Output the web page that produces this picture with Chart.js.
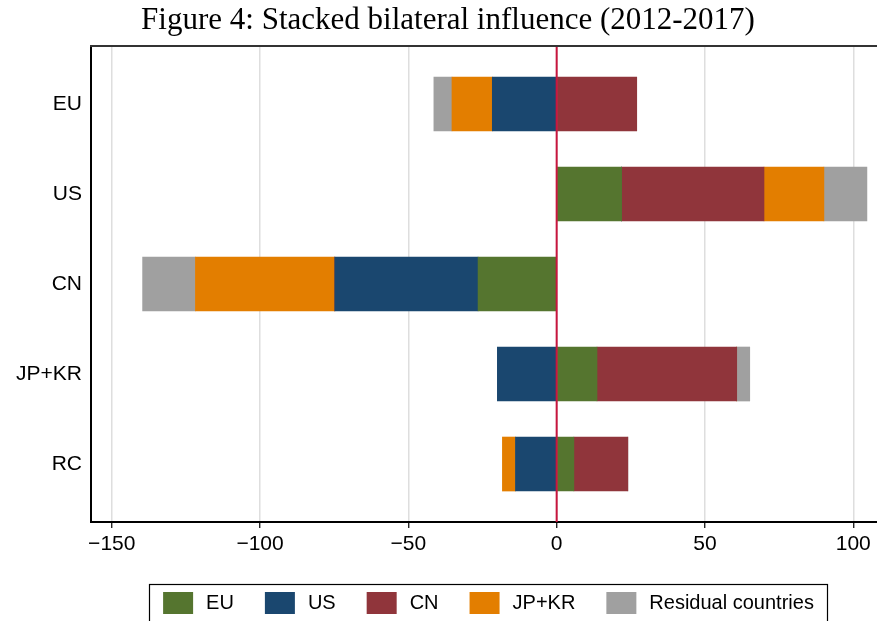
<!DOCTYPE html>
<html>
<head>
<meta charset="utf-8">
<script src="https://cdn.jsdelivr.net/npm/chart.js@4"></script>
<style>
html, body { margin: 0; padding: 0; background: #fff; }
#wrap { width: 877px; height: 621px; }
</style>
</head>
<body>
<div id="wrap"><canvas id="chart"></canvas></div>
<script>
// rows = receiving region, one array per source of influence
const rows = ['EU', 'US', 'CN', 'JP+KR', 'RC'];
const xTicks = [-150, -100, -50, 0, 50, 100];
const seriesNames = ['EU', 'US', 'CN', 'JP+KR', 'Residual countries'];
const fromEU = [0, 21.9, -26.5, 13.6, 5.8];
const fromUS = [-21.7, 0, -48.3, -20.0, -13.9];
const fromCN = [27.0, 48.0, 0, 47.1, 18.2];
const fromJPKR = [-13.6, 20.2, -47.0, 0, -4.4];
const fromResidual = [-6.1, 14.5, -17.8, 4.4, 0];

const seriesValues = [fromEU, fromUS, fromCN, fromJPKR, fromResidual];
const colors = ['#55752f', '#1a476f', '#90353b', '#e37e00', '#a0a0a0'];
const sans = 'Liberation Sans';

const datasets = seriesNames.map((name, k) => ({
    label: name,
    data: seriesValues[k].map((v, i) => ({ x: v, y: i })),
    backgroundColor: colors[k],
    borderWidth: 0,
    barThickness: 54
}));

// title, frame top, zero line and boxed legend
const extras = {
    id: 'extras',
    afterDatasetsDraw(chart) {
        const ctx = chart.ctx;
        const area = chart.chartArea;
        const x0 = chart.scales.x.getPixelForValue(0);
        ctx.save();
        ctx.strokeStyle = '#c8163e';
        ctx.lineWidth = 2;
        ctx.beginPath();
        ctx.moveTo(x0, area.top);
        ctx.lineTo(x0, area.bottom);
        ctx.stroke();
        ctx.restore();
    },
    afterDraw(chart) {
        const ctx = chart.ctx;
        const area = chart.chartArea;
        ctx.save();
        ctx.strokeStyle = '#333';
        ctx.lineWidth = 2;
        ctx.beginPath();
        ctx.moveTo(area.left - 1, area.top);
        ctx.lineTo(area.right, area.top);
        ctx.stroke();

        ctx.fillStyle = '#000';
        ctx.font = '31px "Liberation Serif"';
        ctx.textAlign = 'center';
        ctx.textBaseline = 'middle';
        ctx.fillText('Figure 4: Stacked bilateral influence (2012-2017)', 448, 21);

        // legend
        const boxL = 149.5, boxR = 827.5, boxT = 584.5;
        ctx.strokeStyle = '#000';
        ctx.lineWidth = 1.2;
        ctx.strokeRect(boxL, boxT, boxR - boxL, 60);
        ctx.font = '20px "' + sans + '"';
        ctx.textAlign = 'left';
        const sw = 30, sh = 22, gap = 13, sep = 31;
        const widths = chart.data.datasets.map(d => ctx.measureText(d.label).width);
        let total = widths.reduce((a, w) => a + sw + gap + w, 0) + sep * (widths.length - 1);
        let x = (boxL + boxR) / 2 - total / 2;
        chart.data.datasets.forEach((d, k) => {
            ctx.fillStyle = d.backgroundColor;
            ctx.fillRect(x, 592, sw, sh);
            ctx.fillStyle = '#000';
            ctx.fillText(d.label, x + sw + gap, 603);
            x += sw + gap + widths[k] + sep;
        });
        ctx.restore();
    }
};

new Chart(document.getElementById('chart'), {
    type: 'bar',
    data: { datasets: datasets },
    options: {
        indexAxis: 'y',
        responsive: true,
        maintainAspectRatio: false,
        animation: false,
        layout: { padding: { top: 46, right: 0, bottom: 0, left: 0 } },
        plugins: {
            legend: { display: false },
            title: { display: false },
            tooltip: { enabled: false }
        },
        scales: {
            x: {
                type: 'linear',
                stacked: true,
                min: -157,
                max: 108,
                afterBuildTicks: s => { s.ticks = xTicks.map(v => ({ value: v })); },
                afterFit: s => { s.height = 99; },
                grid: { color: '#dedede', lineWidth: 1.5, tickLength: 6, tickColor: '#000', tickWidth: 1.2 },
                border: { color: '#000', width: 2 },
                ticks: {
                    padding: 4,
                    color: '#000',
                    font: { family: sans, size: 21 },
                    callback: v => v < 0 ? '\u2212' + Math.abs(v) : String(v)
                }
            },
            y: {
                type: 'linear',
                stacked: true,
                reverse: true,
                offset: false,
                min: -0.644,
                max: 4.644,
                afterBuildTicks: s => { s.ticks = rows.map((r, i) => ({ value: i })); },
                afterFit: s => { s.width = 91; },
                grid: { display: false, drawTicks: false, offset: false },
                border: { color: '#000', width: 2 },
                ticks: {
                    padding: 9,
                    color: '#000',
                    font: { family: sans, size: 21 },
                    callback: v => rows[v]
                }
            }
        }
    },
    plugins: [extras]
});
</script>
</body>
</html>
